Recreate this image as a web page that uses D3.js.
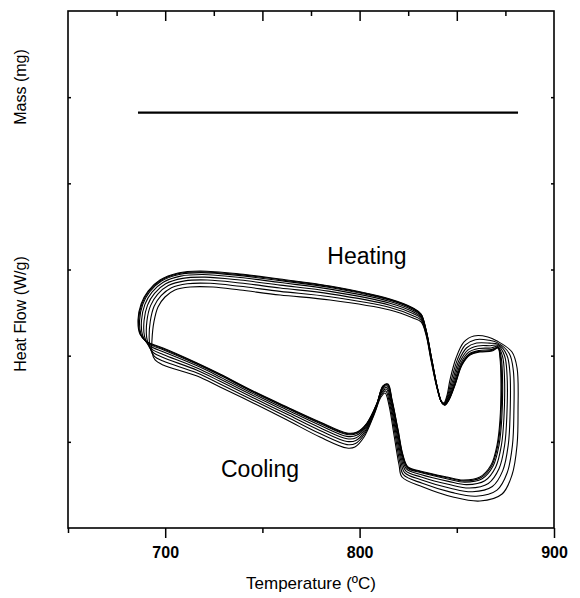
<!DOCTYPE html>
<html><head><meta charset="utf-8">
<script src="https://cdn.jsdelivr.net/npm/d3@7"></script>
<style>
body{margin:0;background:#fff}
svg{display:block}
text{font-family:Arial,"Liberation Sans",Helvetica,sans-serif;fill:#000}
</style>
</head><body>
<svg id="chart" width="580" height="598"></svg>
<script>
// ---- axis ticks ----
const xTicksMajor = [700, 800, 900];
const xTicksMinor = [650, 750, 850];
const topTicksMajor = [700, 750, 800, 850];
const topTicksMinor = [675, 725, 775, 825, 875];
const hfTicks = [1, 2, 3, 4, 5];
const massTicks = [1, 2, 3, 4, 5];

// ---- mass (TGA) trace ----
const massT = [686, 730, 780, 830, 881.5];
const massValue = [4.82, 4.82, 4.82, 4.82, 4.82];

// ---- DSC loop: the tightly bunched cycles (temperature °C, heat flow) ----
const loopT_A = [687.0, 686.0, 687.6, 691.2, 697.3, 706.6, 717.9, 738.5, 759.1, 784.8,
  815.6, 827.5, 831.6, 834.2, 837.2, 840.3, 842.4, 843.9, 846.0, 849.1,
  852.7, 856.8, 861.9, 868.1, 871.2, 872.2, 872.7, 872.2, 870.7, 867.6,
  861.9, 853.2, 845.0, 831.1, 824.9, 822.3, 819.8, 816.7, 814.6, 812.0,
  809.0, 803.8, 798.7, 793.5, 779.6, 762.7, 745.2, 728.2, 716.4, 698.9,
  693.2, 690.1];
const loopHF_A = [2.251, 2.414, 2.600, 2.750, 2.878, 2.959, 2.982, 2.948, 2.889, 2.808,
  2.657, 2.553, 2.483, 2.298, 1.950, 1.601, 1.451, 1.427, 1.486, 1.659,
  1.892, 2.007, 2.042, 2.054, 2.089, 1.973, 1.718, 1.253, 0.963, 0.731,
  0.592, 0.557, 0.592, 0.662, 0.708, 0.847, 1.138, 1.486, 1.671, 1.648,
  1.451, 1.219, 1.114, 1.102, 1.230, 1.404, 1.590, 1.787, 1.915, 2.089,
  2.135, 2.170];

// ---- DSC loop: the most displaced cycle ----
const loopT_B = [693.2, 694.2, 696.3, 699.9, 705.0, 712.8, 724.6, 738.5, 759.1, 784.8,
  815.6, 827.5, 831.6, 834.2, 836.7, 839.8, 841.9, 843.4, 845.0, 846.5,
  849.6, 853.7, 858.8, 866.0, 870.7, 878.4, 881.0, 881.5, 881.0, 878.4,
  873.3, 861.9, 848.0, 832.6, 821.8, 820.3, 817.7, 815.1, 813.1, 811.0,
  807.4, 802.3, 797.6, 793.5, 779.6, 762.7, 745.2, 728.2, 716.4, 698.9,
  694.8, 693.2];
const loopHF_B = [2.182, 2.391, 2.565, 2.681, 2.762, 2.797, 2.797, 2.762, 2.704, 2.646,
  2.530, 2.437, 2.391, 2.240, 1.950, 1.625, 1.474, 1.451, 1.543, 1.718,
  1.973, 2.159, 2.228, 2.217, 2.170, 2.042, 1.857, 1.369, 0.963, 0.615,
  0.395, 0.313, 0.360, 0.476, 0.592, 0.731, 1.079, 1.427, 1.567, 1.520,
  1.311, 1.056, 0.940, 0.928, 1.056, 1.253, 1.451, 1.636, 1.764, 1.892,
  1.950, 2.042];

// position of each of the 8 recorded cycles between the two traced cycles
const cycleWeights = [0, 0.04, 0.1, 0.22, 0.38, 0.56, 0.77, 1];

const labels = {x: "Temperature (ºC)", yTop: "Mass (mg)", yBottom: "Heat Flow (W/g)",
  heating: "Heating", cooling: "Cooling"};

// ---- layout ----
const L = 68, R = 554, T = 11, B = 528;
const svg = d3.select("#chart");
const x = d3.scaleLinear().domain([650, 900]).range([L, R]);
const y = d3.scaleLinear().domain([0, 6]).range([B, T]);
const yMass = d3.scaleLinear().domain([0, 6]).range([B, T]);

// cycles
const cycles = cycleWeights.map(w => loopT_A.map((t, i) => ({
  t: t + w * (loopT_B[i] - t),
  h: loopHF_A[i] + w * (loopHF_B[i] - loopHF_A[i])
})));
const loopLine = d3.line().x(d => x(d.t)).y(d => y(d.h)).curve(d3.curveCatmullRomClosed.alpha(0.5));
svg.append("g").selectAll("path").data(cycles).join("path")
  .attr("d", loopLine).attr("fill", "none").attr("stroke", "#000").attr("stroke-width", 1.1);

// mass line
const massLine = d3.line().x((d, i) => x(massT[i])).y((d, i) => yMass(massValue[i]));
svg.append("path").datum(massT).attr("d", massLine)
  .attr("fill", "none").attr("stroke", "#000").attr("stroke-width", 2.2);

// axes
function style(g){ g.select(".domain").remove(); g.selectAll("line").attr("stroke", "#000").attr("stroke-width", 1.5); }

svg.append("g").attr("transform", `translate(0,${B})`)
  .call(d3.axisBottom(x).tickValues(xTicksMajor).tickSize(10).tickPadding(9).tickFormat(d3.format("d")))
  .call(style)
  .call(g => g.selectAll("text").attr("font-size", 16).attr("font-weight", "bold")
     .attr("font-family", "Arial, 'Liberation Sans', sans-serif").attr("fill", "#000"));
svg.append("g").attr("transform", `translate(0,${B})`)
  .call(d3.axisBottom(x).tickValues(xTicksMinor).tickSize(5).tickFormat(""))
  .call(style);
svg.append("g").attr("transform", `translate(0,${T})`)
  .call(d3.axisBottom(x).tickValues(topTicksMajor).tickSize(10).tickFormat(""))
  .call(style);
svg.append("g").attr("transform", `translate(0,${T})`)
  .call(d3.axisBottom(x).tickValues(topTicksMinor).tickSize(5).tickFormat(""))
  .call(style);
svg.append("g").attr("transform", `translate(${L},0)`)
  .call(d3.axisRight(y).tickValues(hfTicks).tickSize(3).tickFormat(""))
  .call(style);
svg.append("g").attr("transform", `translate(${R},0)`)
  .call(d3.axisLeft(yMass).tickValues(massTicks).tickSize(3).tickFormat(""))
  .call(style);

// frame
svg.append("rect").attr("x", L).attr("y", T).attr("width", R - L).attr("height", B - T)
  .attr("fill", "none").attr("stroke", "#000").attr("stroke-width", 1.6);

// texts
svg.append("text").attr("x", 311).attr("y", 589).attr("text-anchor", "middle")
  .attr("font-size", 17).text(labels.x);
svg.append("text").attr("transform", "translate(26,87) rotate(-90)").attr("text-anchor", "middle")
  .attr("font-size", 16).text(labels.yTop);
svg.append("text").attr("transform", "translate(26,314) rotate(-90)").attr("text-anchor", "middle")
  .attr("font-size", 16).text(labels.yBottom);
svg.append("text").attr("x", 367).attr("y", 264).attr("text-anchor", "middle")
  .attr("font-size", 23).text(labels.heating);
svg.append("text").attr("x", 260).attr("y", 477).attr("text-anchor", "middle")
  .attr("font-size", 23).text(labels.cooling);
</script>
</body></html>
